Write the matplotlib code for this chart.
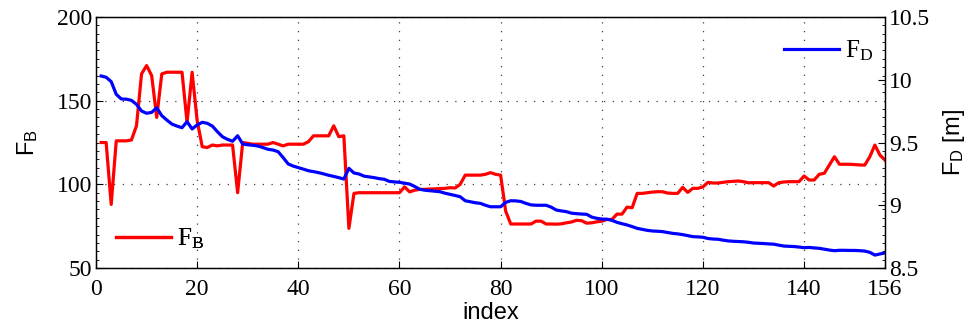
import matplotlib
matplotlib.use("Agg")
import matplotlib.pyplot as plt
from matplotlib.ticker import MultipleLocator, NullLocator
import numpy as np

# F_B values (left axis), one per index 1..156
f_b = [
    125, 125, 88, 126, 126, 126, 126.5, 135, 166, 171,
    165, 140, 166, 167, 167, 167, 167, 137, 167, 138,
    122.5, 122, 123.5, 123, 123.5, 123.5, 123.5, 95, 125, 124.5,
    124, 124, 124, 124, 125, 124, 123, 124, 124, 124,
    124, 125.5, 129, 129, 129, 129, 135, 128.5, 129, 73.7,
    94.6, 95, 95, 95, 95, 95, 95, 95, 95, 95,
    98.5, 95.5, 96.5, 97, 97, 97.2, 97.3, 97.5, 97.6, 98,
    97.8, 100, 105.5, 105.5, 105.5, 105.5, 106, 107, 106, 105.5,
    84, 76.3, 76.3, 76.3, 76.3, 76.3, 78, 78, 76.3, 76.3,
    76.2, 76.4, 77, 77.5, 78.5, 78.3, 76.8, 77, 77.6, 78,
    79, 79, 82.2, 82.2, 86.4, 86, 94.6, 94.6, 95, 95.4,
    95.6, 95.6, 94.8, 94.6, 94.6, 98.2, 95.2, 97.6, 97.6, 98.5,
    101.2, 100.8, 100.8, 101.2, 101.6, 101.8, 102, 101.6, 100.9, 101,
    101, 101, 101, 99, 101, 101.4, 101.6, 101.6, 101.6, 105,
    102.6, 102.6, 106, 106.6, 111.5, 116.5, 112, 112, 112, 111.8,
    111.6, 111.5, 116.5, 123.5, 117.5, 114.5,
]

# F_D values in metres (right axis), one per index 1..156
f_d = [
    10.03, 10.02, 9.985, 9.884, 9.847, 9.845, 9.836, 9.804, 9.751, 9.733,
    9.74, 9.777, 9.714, 9.679, 9.647, 9.631, 9.618, 9.666, 9.608, 9.64,
    9.661, 9.653, 9.631, 9.586, 9.546, 9.525, 9.51, 9.554, 9.488, 9.482,
    9.478, 9.472, 9.46, 9.446, 9.44, 9.427, 9.38, 9.329, 9.312, 9.30,
    9.288, 9.275, 9.268, 9.26, 9.25, 9.239, 9.23, 9.22, 9.209, 9.294,
    9.257, 9.249, 9.232, 9.226, 9.22, 9.212, 9.207, 9.19, 9.186, 9.183,
    9.176, 9.169, 9.15, 9.127, 9.12, 9.116, 9.112, 9.108, 9.096, 9.087,
    9.078, 9.068, 9.036, 9.028, 9.02, 9.015, 9.0, 8.988, 8.988, 8.988,
    9.023, 9.036, 9.035, 9.03, 9.015, 9.003, 9.0, 9.0, 9.0, 8.985,
    8.962, 8.955, 8.949, 8.937, 8.933, 8.93, 8.928, 8.906, 8.896, 8.89,
    8.889, 8.88, 8.864, 8.853, 8.843, 8.83, 8.816, 8.808, 8.80, 8.795,
    8.793, 8.79, 8.783, 8.776, 8.772, 8.766, 8.758, 8.75, 8.748, 8.745,
    8.735, 8.731, 8.729, 8.722, 8.716, 8.713, 8.711, 8.709, 8.705, 8.699,
    8.697, 8.695, 8.692, 8.69, 8.682, 8.675, 8.673, 8.671, 8.667, 8.662,
    8.664, 8.66, 8.657, 8.65, 8.643, 8.638, 8.641, 8.641, 8.64, 8.64,
    8.638, 8.635, 8.625, 8.603, 8.612, 8.62,
]

index = np.arange(1, len(f_b) + 1)

x_ticks = [0, 20, 40, 60, 80, 100, 120, 140, 156]
yl_ticks = [50, 100, 150, 200]
yr_ticks = [8.5, 9, 9.5, 10, 10.5]
yr_labels = ["8.5", "9", "9.5", "10", "10.5"]

serif = ["Liberation Serif", "DejaVu Serif"]
sans = ["Liberation Sans", "DejaVu Sans"]
plt.rcParams["mathtext.default"] = "regular"

fig = plt.figure(figsize=(9.69, 3.31), dpi=100)
ax = fig.add_axes([0.0991, 0.1903, 0.8142, 0.7583])
ax2 = ax.twinx()

line_b, = ax.plot(index, f_b, color=(1, 0, 0), lw=2.3)
line_d, = ax2.plot(index, f_d, color=(0, 0, 1), lw=2.3)

ax.set_xlim(0, 156)
ax.set_ylim(50, 200)
ax2.set_ylim(8.5, 10.5)
ax.set_xticks(x_ticks)
ax.set_yticks(yl_ticks)
ax2.set_yticks(yr_ticks)
ax2.set_yticklabels(yr_labels)

ax.xaxis.set_minor_locator(NullLocator())
ax.yaxis.set_minor_locator(MultipleLocator(5))
ax2.yaxis.set_minor_locator(NullLocator())

for a in (ax, ax2):
    a.tick_params(which="major", direction="in", length=5, width=0.8,
                  labelsize=17, pad=3)
    a.tick_params(which="minor", direction="in", length=2.5, width=0.6)
    for lab in a.get_xticklabels() + a.get_yticklabels():
        lab.set_fontfamily(serif)
    for s in a.spines.values():
        s.set_linewidth(0.9)
ax.tick_params(axis="x", pad=8)
ax.tick_params(axis="y", which="minor", right=True)

ax.grid(True, which="major", linestyle=(0, (1, 6)), color="black",
        linewidth=0.9, alpha=0.75)
ax.set_axisbelow(True)

ax.set_xlabel("index", fontsize=17, fontfamily=sans, labelpad=1)
ax.set_ylabel(r"$\mathregular{F_B}$", fontsize=17, fontfamily=sans, labelpad=12)
ax2.set_ylabel(r"$\mathregular{F_D}$ [m]", fontsize=17, fontfamily=sans, labelpad=8)

leg_kw = dict(frameon=False, handlelength=2.2, handletextpad=0.25,
              borderpad=0, borderaxespad=0,
              prop={"family": serif, "size": 18})
leg_b = ax.legend([line_b], [r"$\mathregular{F_B}$"], loc="center left",
                  bbox_to_anchor=(0.0253, 0.115), **leg_kw)
ax.add_artist(leg_b)
ax2.legend([line_d], [r"$\mathregular{F_D}$"], loc="center left",
           bbox_to_anchor=(0.872, 0.865), **leg_kw)

fig.savefig("out.png", dpi=100)
